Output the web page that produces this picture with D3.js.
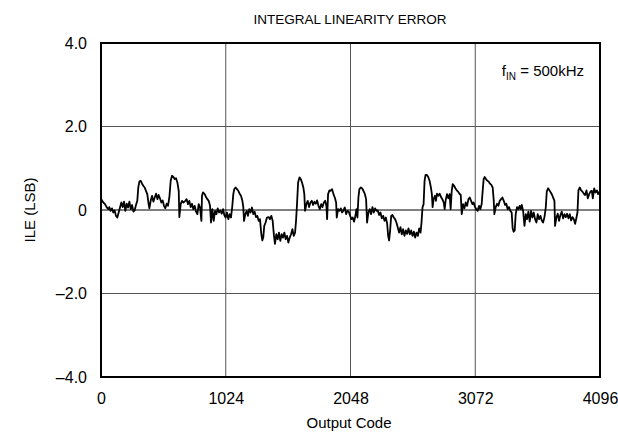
<!DOCTYPE html>
<html>
<head>
<meta charset="utf-8">
<script src="https://cdn.jsdelivr.net/npm/d3@7"></script>
<style>
  body { margin: 0; background: #fff; }
  text { font-family: "Liberation Sans", Arial, sans-serif; fill: #000; }
</style>
</head>
<body>
<div id="chart"></div>
<script>
// output code, ILE in LSB
const codes = [
  0, 8, 19, 33, 46, 60, 68, 79, 90, 101, 112, 123, 134, 145, 156, 167, 178, 189, 200, 211,
  222, 233, 244, 255, 266, 276, 287, 298, 306, 315, 326, 337, 347, 358, 369, 380, 391, 397, 408, 419,
  430, 441, 452, 463, 473, 484, 495, 506, 517, 528, 539, 550, 561, 572, 583, 594, 605, 616, 627, 638,
  643, 654, 665, 676, 692, 703, 714, 725, 736, 747, 758, 769, 780, 791, 802, 813, 824, 829, 837, 851,
  862, 873, 884, 895, 903, 914, 925, 936, 947, 958, 969, 980, 991, 1002, 1012, 1023, 1034, 1045, 1056, 1067,
  1078, 1086, 1094, 1105, 1116, 1127, 1138, 1149, 1160, 1168, 1174, 1185, 1196, 1206, 1217, 1228, 1239, 1250, 1261, 1272,
  1283, 1294, 1305, 1316, 1324, 1332, 1340, 1351, 1362, 1376, 1387, 1398, 1409, 1420, 1428, 1439, 1450, 1461, 1472, 1483,
  1494, 1505, 1516, 1527, 1538, 1549, 1560, 1571, 1582, 1593, 1601, 1609, 1618, 1629, 1640, 1650, 1661, 1669, 1675, 1686,
  1697, 1708, 1719, 1730, 1741, 1752, 1763, 1774, 1785, 1796, 1807, 1818, 1829, 1840, 1850, 1856, 1864, 1875, 1886, 1897,
  1908, 1919, 1930, 1935, 1946, 1957, 1968, 1979, 1990, 2001, 2012, 2023, 2034, 2045, 2056, 2066, 2077, 2088, 2097, 2105,
  2113, 2121, 2132, 2143, 2154, 2165, 2176, 2184, 2195, 2206, 2217, 2228, 2239, 2250, 2261, 2272, 2283, 2294, 2305, 2316,
  2327, 2338, 2349, 2357, 2365, 2373, 2382, 2392, 2403, 2414, 2425, 2436, 2447, 2458, 2469, 2480, 2491, 2502, 2513, 2524,
  2535, 2546, 2557, 2568, 2579, 2590, 2601, 2612, 2623, 2631, 2639, 2648, 2656, 2664, 2675, 2686, 2697, 2708, 2716, 2722,
  2730, 2741, 2749, 2758, 2769, 2780, 2791, 2802, 2813, 2821, 2829, 2840, 2851, 2862, 2870, 2879, 2887, 2898, 2909, 2920,
  2931, 2942, 2953, 2961, 2972, 2983, 2994, 3005, 3016, 3027, 3038, 3049, 3059, 3070, 3081, 3092, 3103, 3114, 3125, 3133,
  3141, 3149, 3160, 3171, 3182, 3193, 3204, 3215, 3223, 3229, 3240, 3251, 3262, 3273, 3284, 3295, 3306, 3317, 3327, 3338,
  3349, 3360, 3371, 3379, 3387, 3396, 3404, 3415, 3426, 3437, 3445, 3454, 3465, 3476, 3487, 3497, 3508, 3519, 3530, 3541,
  3552, 3563, 3574, 3585, 3596, 3607, 3618, 3629, 3640, 3651, 3659, 3670, 3681, 3692, 3703, 3714, 3722, 3727, 3738, 3749,
  3760, 3771, 3782, 3793, 3804, 3815, 3826, 3837, 3848, 3859, 3870, 3881, 3892, 3903, 3911, 3919, 3930, 3941, 3952, 3963,
  3974, 3985, 3996, 4007, 4018, 4029, 4037, 4048, 4059, 4070, 4081, 4092, 4096
];
const ile = [
  0.26, 0.23, 0.18, 0.14, 0.07, 0.02, 0.07, -0.02, 0.04, -0.06, -0.01, -0.14, -0.18, -0.06, 0.06, 0.18, 0.07, 0.2, -0.02, 0.15,
  0.06, 0.2, 0.02, 0.12, -0.04, -0.01, 0.12, 0.22, 0.54, 0.68, 0.7, 0.63, 0.58, 0.54, 0.46, 0.38, 0.14, 0.04, 0.22, 0.34,
  0.2, 0.3, 0.39, 0.26, 0.36, 0.28, 0.18, 0.23, 0.1, 0.04, 0.15, 0.1, 0.3, 0.7, 0.82, 0.79, 0.74, 0.76, 0.66, 0.46,
  -0.17, 0.14, 0.22, 0.18, 0.22, 0.26, 0.14, 0.22, 0.07, 0.15, 0.02, 0.1, -0.04, -0.1, 0.14, 0.06, -0.26, 0.34, 0.42, 0.38,
  0.31, 0.26, 0.22, 0.1, -0.3, 0.02, -0.26, -0.02, -0.1, 0.04, -0.06, -0.01, -0.09, 0.02, -0.12, -0.18, -0.06, -0.22, -0.1, -0.18,
  0.1, 0.38, 0.5, 0.54, 0.5, 0.46, 0.39, 0.34, 0.23, 0.07, -0.26, -0.1, -0.02, -0.14, 0.02, -0.06, 0.06, -0.1, -0.04, -0.17,
  -0.14, -0.26, -0.22, -0.58, -0.73, -0.66, -0.38, -0.3, -0.18, -0.17, -0.22, -0.14, -0.26, -0.62, -0.81, -0.58, -0.7, -0.54, -0.74, -0.58,
  -0.66, -0.54, -0.7, -0.62, -0.78, -0.66, -0.58, -0.46, -0.62, -0.54, -0.26, 0.14, 0.66, 0.78, 0.74, 0.66, 0.54, 0.38, -0.02, 0.14,
  0.22, 0.07, 0.18, 0.22, 0.12, 0.2, 0.15, 0.23, 0.1, 0.02, 0.14, 0.07, 0.18, 0.22, 0.1, -0.22, 0.38, 0.47, 0.46, 0.5,
  0.38, 0.3, 0.18, -0.18, 0.02, -0.02, 0.04, -0.06, -0.01, 0.06, -0.1, -0.02, -0.04, -0.14, -0.22, -0.18, -0.28, -0.14, 0.02, -0.18,
  0.3, 0.5, 0.54, 0.52, 0.46, 0.39, 0.26, -0.3, -0.06, 0.02, -0.1, 0.07, -0.06, 0.04, -0.02, -0.01, -0.12, -0.06, -0.2, -0.14,
  -0.26, -0.18, -0.33, -0.62, -0.73, -0.5, -0.14, -0.12, -0.18, -0.22, -0.3, -0.42, -0.54, -0.41, -0.58, -0.46, -0.62, -0.49, -0.57, -0.44,
  -0.58, -0.49, -0.62, -0.52, -0.66, -0.54, -0.62, -0.44, -0.54, -0.3, 0.06, 0.14, 0.7, 0.84, 0.84, 0.79, 0.7, 0.54, 0.38, 0.07,
  0.26, 0.34, 0.22, 0.39, 0.34, 0.39, 0.31, 0.26, 0.18, 0.02, 0.23, 0.38, 0.28, 0.38, 0.02, 0.46, 0.62, 0.58, 0.52, 0.47,
  0.44, 0.39, 0.36, -0.1, 0.14, 0.04, 0.18, 0.1, 0.26, 0.3, 0.22, 0.14, 0.18, 0.07, 0.02, -0.02, 0.1, 0.02, 0.15, 0.46,
  0.74, 0.79, 0.74, 0.7, 0.68, 0.63, 0.6, 0.54, 0.26, -0.1, 0.07, 0.15, 0.1, 0.22, 0.26, 0.3, 0.22, 0.12, 0.15, 0.02,
  0.07, -0.02, -0.06, -0.44, -0.52, -0.49, -0.1, 0.07, 0.02, 0.1, 0.02, 0.12, -0.02, -0.38, -0.1, -0.22, -0.04, -0.28, -0.02, -0.18,
  -0.06, -0.22, -0.3, -0.1, -0.22, -0.14, -0.25, -0.3, -0.17, 0.06, 0.44, 0.52, 0.47, 0.42, 0.36, 0.28, 0.22, -0.38, -0.18, -0.09,
  -0.26, -0.12, -0.04, -0.2, -0.1, -0.17, -0.09, -0.2, -0.1, -0.25, -0.17, -0.22, -0.33, -0.18, -0.06, 0.47, 0.54, 0.47, 0.44, 0.39,
  0.36, 0.47, 0.28, 0.38, 0.44, 0.46, 0.28, 0.52, 0.42, 0.47, 0.38, 0.44, 0.4
];
const xTicks = [0, 1024, 2048, 3072, 4096];
const yTicks = [-4, -2, 0, 2, 4];
const xGrid = [1024, 2048, 3072];
const yGrid = [-2, 0, 2];

const width = 618;
const height = 442;
const margin = { top: 43, right: 18, bottom: 65, left: 101 };

const svg = d3
  .select("#chart")
  .append("svg")
  .attr("width", width)
  .attr("height", height);

const x = d3.scaleLinear().domain([0, 4096]).range([margin.left, width - margin.right]);
const y = d3.scaleLinear().domain([-4, 4]).range([height - margin.bottom, margin.top]);

// grid
svg
  .selectAll(".vgrid")
  .data(xGrid)
  .enter()
  .append("line")
  .attr("x1", (d) => x(d))
  .attr("x2", (d) => x(d))
  .attr("y1", y(4))
  .attr("y2", y(-4))
  .attr("stroke", "#555")
  .attr("stroke-width", 1);

svg
  .selectAll(".hgrid")
  .data(yGrid)
  .enter()
  .append("line")
  .attr("x1", x(0))
  .attr("x2", x(4096))
  .attr("y1", (d) => y(d))
  .attr("y2", (d) => y(d))
  .attr("stroke", (d) => (d === 0 ? "#000" : "#555"))
  .attr("stroke-width", 1);

// data line
const pts = codes.map((c, i) => [c, ile[i]]);
svg
  .append("path")
  .datum(pts)
  .attr("fill", "none")
  .attr("stroke", "#000")
  .attr("stroke-width", 1.8)
  .attr("stroke-linejoin", "round")
  .attr("d", d3.line().x((d) => x(d[0])).y((d) => y(d[1])));

// frame
svg
  .append("rect")
  .attr("x", x(0))
  .attr("y", y(4))
  .attr("width", x(4096) - x(0))
  .attr("height", y(-4) - y(4))
  .attr("fill", "none")
  .attr("stroke", "#000")
  .attr("stroke-width", 2);

// axes (labels only, no tick marks)
const xAxis = svg
  .append("g")
  .attr("transform", `translate(0,${y(-4)})`)
  .call(
    d3
      .axisBottom(x)
      .tickValues(xTicks)
      .tickSize(0)
      .tickPadding(16)
      .tickFormat(d3.format("d"))
  );
const yAxis = svg
  .append("g")
  .attr("transform", `translate(${x(0)},0)`)
  .call(
    d3
      .axisLeft(y)
      .tickValues(yTicks)
      .tickSize(0)
      .tickPadding(14)
      .tickFormat((d) => (d < 0 ? "\u2013" + Math.abs(d).toFixed(1) : d === 0 ? "0" : d.toFixed(1)))
  );
[xAxis, yAxis].forEach((g) => {
  g.attr("font-size", null).attr("font-family", null);
  g.select(".domain").remove();
  g.selectAll("text")
    .style("font-family", "'Liberation Sans', Arial, sans-serif")
    .style("font-size", "16px")
    .attr("fill", "#000");
});

// titles
svg
  .append("text")
  .attr("x", 350)
  .attr("y", 24)
  .attr("text-anchor", "middle")
  .style("font-size", "13.5px")
  .text("INTEGRAL LINEARITY ERROR");

svg
  .append("text")
  .attr("x", 349)
  .attr("y", 428)
  .attr("text-anchor", "middle")
  .style("font-size", "15px")
  .text("Output Code");

svg
  .append("text")
  .attr("transform", `translate(35,${y(0)}) rotate(-90)`)
  .attr("text-anchor", "middle")
  .style("font-size", "15px")
  .text("ILE (LSB)");

// annotation
const ann = svg
  .append("text")
  .attr("x", 584)
  .attr("y", 76)
  .attr("text-anchor", "end")
  .style("font-size", "15px");
ann.append("tspan").text("f");
ann.append("tspan").style("font-size", "10px").attr("dy", 4).text("IN");
ann.append("tspan").attr("dy", -4).text(" = 500kHz");
</script>
</body>
</html>
